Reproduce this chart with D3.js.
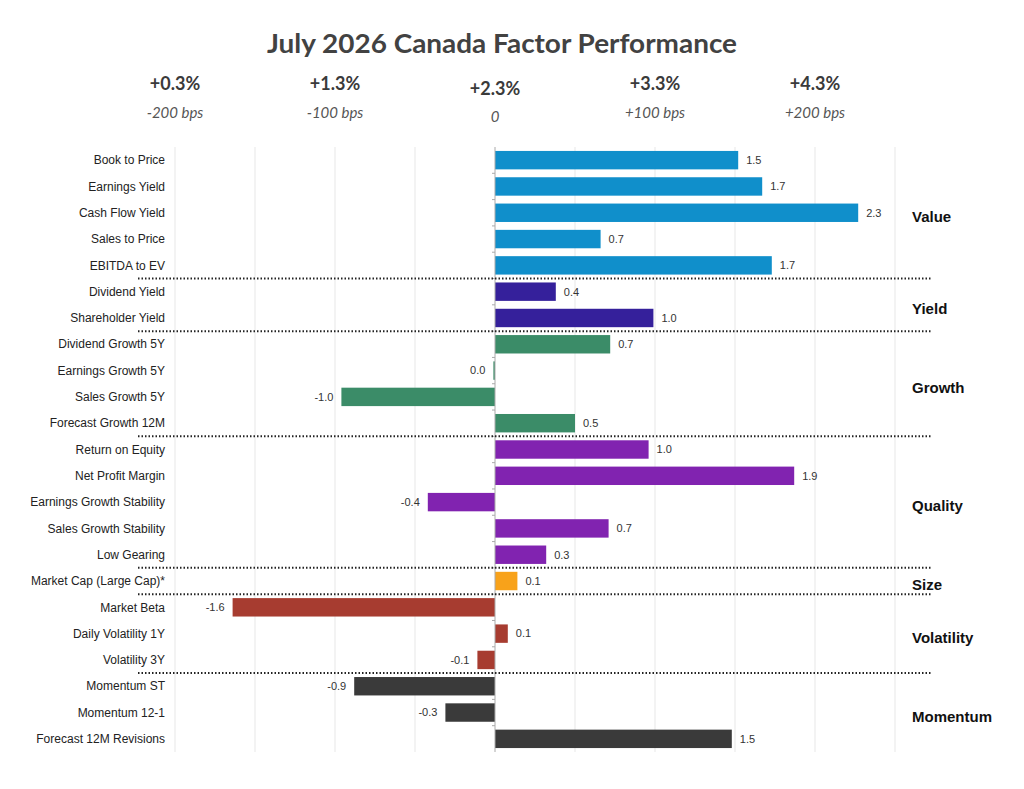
<!DOCTYPE html>
<html>
<head>
<meta charset="utf-8">
<script src="https://cdn.jsdelivr.net/npm/d3@7"></script>
<style>
  body { margin: 0; background: #fff; }
  text { font-family: "Liberation Sans", Arial, sans-serif; }
</style>
</head>
<body>
<div id="chart"></div>
<script>
// factor names, top to bottom
var categories = [
  "Book to Price", "Earnings Yield", "Cash Flow Yield", "Sales to Price", "EBITDA to EV",
  "Dividend Yield", "Shareholder Yield",
  "Dividend Growth 5Y", "Earnings Growth 5Y", "Sales Growth 5Y", "Forecast Growth 12M",
  "Return on Equity", "Net Profit Margin", "Earnings Growth Stability", "Sales Growth Stability", "Low Gearing",
  "Market Cap (Large Cap)*",
  "Market Beta", "Daily Volatility 1Y", "Volatility 3Y",
  "Momentum ST", "Momentum 12-1", "Forecast 12M Revisions"
];
// relative performance, %
var values = [
  1.52, 1.67, 2.27, 0.66, 1.73,
  0.38, 0.99,
  0.72, -0.01, -0.96, 0.50,
  0.96, 1.87, -0.42, 0.71, 0.32,
  0.14,
  -1.64, 0.08, -0.11,
  -0.88, -0.31, 1.48
];
var groupNames = ["Value", "Yield", "Growth", "Quality", "Size", "Volatility", "Momentum"];
var groupSizes = [5, 2, 4, 5, 1, 3, 3];
var groupColors = ["#108fcb", "#35209b", "#3b8c68", "#8123b0", "#f8a21a", "#a73c30", "#3a3a3a"];

// header row
var headerPos = [-2, -1, 0, 1, 2];
var headerPct = ["+0.3%", "+1.3%", "+2.3%", "+3.3%", "+4.3%"];
var headerBps = ["-200 bps", "-100 bps", "0", "+100 bps", "+200 bps"];
var gridTicks = [-2, -1.5, -1, -0.5, 0.5, 1, 1.5, 2, 2.5];

var w = 1024, h = 789;

// group index for each row
var groupOf = [];
groupSizes.forEach(function(n, gi) { for (var k = 0; k < n; k++) groupOf.push(gi); });

var rows = categories.map(function(c, i) {
  return { c: c, v: values[i], g: groupOf[i] };
});

var xScale = d3.scaleLinear()
  .domain([-2, 2.5])
  .range([175, 895]);

var yScale = d3.scaleBand()
  .domain(categories)
  .range([147, 752])
  .paddingInner(0.3)
  .paddingOuter(0.15);

var step = yScale.step();
var gap = step * 0.3;

function fmt(v) {
  return (Math.round(v * 10) / 10 + 0).toFixed(1);
}

var svg = d3.select("#chart")
  .append("svg")
  .attr("width", w)
  .attr("height", h);

svg.append("rect").attr("width", w).attr("height", h).attr("fill", "#fff");

// title
svg.append("text")
  .attr("x", 502)
  .attr("y", 53)
  .attr("text-anchor", "middle")
  .attr("textLength", 470)
  .attr("lengthAdjust", "spacingAndGlyphs")
  .style("font-family", "Lato, 'Open Sans', sans-serif")
  .style("font-weight", "bold")
  .style("font-size", "27px")
  .style("fill", "#424242")
  .text("July 2026 Canada Factor Performance");

// header: total return and bps offset
var heads = svg.selectAll(".head")
  .data(headerPos)
  .enter()
  .append("g")
  .attr("class", "head");

heads.append("text")
  .attr("x", function(d) { return xScale(d); })
  .attr("y", function(d) { return d === 0 ? 95 : 90; })
  .attr("text-anchor", "middle")
  .style("font-family", "Lato, 'Open Sans', sans-serif")
  .style("font-weight", "bold")
  .style("font-size", "18px")
  .style("fill", "#3a3a3a")
  .text(function(d, i) { return headerPct[i]; });

heads.append("text")
  .attr("x", function(d) { return xScale(d); })
  .attr("y", function(d) { return d === 0 ? 122 : 118; })
  .attr("text-anchor", "middle")
  .style("font-family", "Lato, 'Open Sans', sans-serif")
  .style("font-style", "italic")
  .style("font-size", "15px")
  .style("fill", "#555")
  .text(function(d, i) { return headerBps[i]; });

// vertical grid
svg.selectAll(".grid")
  .data(gridTicks)
  .enter()
  .append("line")
  .attr("class", "grid")
  .attr("x1", function(d) { return xScale(d); })
  .attr("x2", function(d) { return xScale(d); })
  .attr("y1", 147)
  .attr("y2", 752)
  .attr("stroke", "#efefef")
  .attr("stroke-width", 1.5);

// bars
svg.selectAll(".bar")
  .data(rows)
  .enter()
  .append("rect")
  .attr("class", "bar")
  .attr("x", function(d) { return xScale(Math.min(0, d.v)); })
  .attr("y", function(d) { return yScale(d.c); })
  .attr("width", function(d) { return Math.max(1.5, Math.abs(xScale(d.v) - xScale(0))); })
  .attr("height", yScale.bandwidth())
  .attr("fill", function(d) { return groupColors[d.g]; });

// zero axis with small ticks between rows
svg.append("line")
  .attr("x1", xScale(0)).attr("x2", xScale(0))
  .attr("y1", 147).attr("y2", 752)
  .attr("stroke", "#aaa")
  .attr("stroke-width", 1);

svg.selectAll(".ytick")
  .data(categories.slice(1))
  .enter()
  .append("line")
  .attr("class", "ytick")
  .attr("x1", xScale(0) - 3).attr("x2", xScale(0))
  .attr("y1", function(d) { return yScale(d) - gap / 2; })
  .attr("y2", function(d) { return yScale(d) - gap / 2; })
  .attr("stroke", "#aaa");

// category labels
svg.selectAll(".cat")
  .data(rows)
  .enter()
  .append("text")
  .attr("class", "cat")
  .attr("x", 165)
  .attr("y", function(d) { return yScale(d.c) + yScale.bandwidth() / 2; })
  .attr("dy", "0.35em")
  .attr("text-anchor", "end")
  .style("font-size", "12px")
  .style("fill", "#222")
  .text(function(d) { return d.c; });

// value labels
svg.selectAll(".val")
  .data(rows)
  .enter()
  .append("text")
  .attr("class", "val")
  .attr("x", function(d) { return d.v < 0 ? xScale(d.v) - 8 : xScale(d.v) + 8; })
  .attr("y", function(d) { return yScale(d.c) + yScale.bandwidth() / 2; })
  .attr("dy", "0.35em")
  .attr("text-anchor", function(d) { return d.v < 0 ? "end" : "start"; })
  .style("font-size", "11px")
  .style("fill", "#333")
  .text(function(d) { return fmt(d.v); });

// group separators and names
var starts = [];
var acc = 0;
groupSizes.forEach(function(n) { starts.push(acc); acc += n; });

svg.selectAll(".sep")
  .data(starts.slice(1))
  .enter()
  .append("line")
  .attr("class", "sep")
  .attr("x1", 138).attr("x2", 931)
  .attr("y1", function(s) { return yScale(categories[s]) - gap / 2; })
  .attr("y2", function(s) { return yScale(categories[s]) - gap / 2; })
  .attr("stroke", "#222")
  .attr("stroke-width", 2)
  .attr("stroke-dasharray", "1.5,2");

svg.selectAll(".grp")
  .data(groupNames)
  .enter()
  .append("text")
  .attr("class", "grp")
  .attr("x", 912)
  .attr("y", function(d, i) {
    var top = yScale(categories[starts[i]]) - gap / 2;
    return top + groupSizes[i] * step / 2 + 4;
  })
  .attr("dy", "0.35em")
  .style("font-size", "15px")
  .style("font-weight", "bold")
  .style("fill", "#111")
  .text(function(d) { return d; });
</script>
</body>
</html>
